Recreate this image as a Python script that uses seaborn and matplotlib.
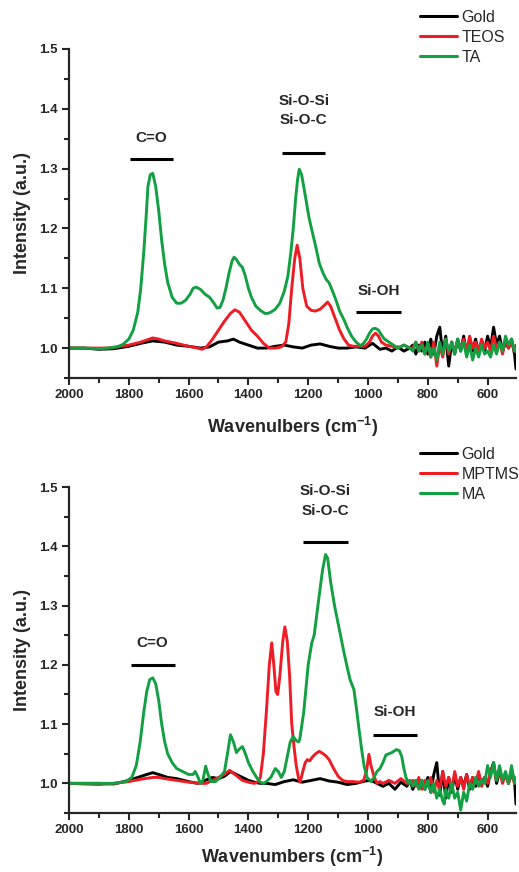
import numpy as np
import pandas as pd
import matplotlib
matplotlib.use("Agg")
import matplotlib.pyplot as plt
import seaborn as sns
from matplotlib.lines import Line2D
from matplotlib.ticker import MultipleLocator

# ---------------- DATA ----------------
# Top panel
top_gold_w = [2000,1950,1900,1850,1800,1760,1720,1680,1640,1600,1560,1530,1500,1470,1450,1430,1400,1370,1340,1310,1280,1250,1220,1190,1160,1130,1100,1070,1040,1010,985,960,940,920,900,880,860,
              850,840,830,820,810,800,790,780,770,760,750,740,730,720,710,700,690,680,670,660,650,640,630,620,610,600,590,580,570,560,550,540,530,520,510,505]
top_gold_v = [1.0,1.0,0.998,0.999,1.003,1.008,1.012,1.01,1.005,1.003,1.0,1.002,1.01,1.012,1.015,1.01,1.005,1.0,1.0,1.003,1.005,1.002,1.0,1.005,1.007,1.003,1.0,1.0,1.002,1.0,1.008,0.998,1.0,0.995,1.002,0.995,1.0,
              1.005,0.99,1.005,0.995,1.01,0.99,1.015,0.99,1.02,1.035,0.99,1.02,0.97,1.01,0.99,1.015,0.995,1.02,0.99,1.01,0.995,1.015,0.99,1.01,0.995,1.02,1.0,1.035,1.005,1.02,0.995,1.01,1.0,1.015,0.99,0.965]

top_teos_w = [2000,1950,1900,1870,1840,1800,1760,1720,1700,1680,1640,1600,1570,1555,1540,1520,1500,1480,1460,1445,1430,1410,1390,1370,1350,1330,1310,1290,1275,1265,1255,1245,1237,1228,1218,1205,1190,1175,1160,1145,1135,1125,1110,1095,1080,1065,1050,1030,1010,995,985,975,965,955,940,920,900,880,860,
              850,840,830,820,810,800,790,780,770,760,750,740,730,720,710,700,690,680,670,660,650,640,630,620,610,600,590,580,570,560,550,540,530,520,510,505]
top_teos_v = [1.0,1.0,1.0,1.0,1.002,1.005,1.01,1.017,1.015,1.012,1.008,1.003,1.0,0.998,1.002,1.015,1.03,1.045,1.058,1.064,1.06,1.045,1.03,1.02,1.008,1.0,1.0,1.002,1.01,1.04,1.1,1.15,1.172,1.15,1.1,1.07,1.063,1.062,1.065,1.072,1.077,1.07,1.05,1.03,1.015,1.005,1.003,1.003,1.003,1.01,1.02,1.025,1.02,1.01,1.005,1.003,1.0,1.005,1.0,
              1.0,1.01,0.995,1.01,0.99,1.005,0.985,1.01,0.97,1.005,0.985,1.015,0.99,1.01,0.995,1.01,1.0,1.015,0.995,1.02,1.0,1.01,0.995,1.015,1.0,1.01,0.995,1.02,1.0,1.01,0.99,1.015,1.0,1.01,0.995,1.005]

top_ta_w = [2000,1950,1900,1870,1840,1820,1800,1785,1770,1760,1750,1742,1736,1728,1720,1710,1700,1690,1680,1670,1655,1640,1625,1610,1595,1585,1575,1560,1545,1530,1515,1505,1495,1485,1475,1465,1455,1448,1440,1430,1420,1410,1400,1390,1375,1360,1345,1335,1325,1310,1295,1280,1268,1258,1250,1242,1236,1230,1222,1215,1207,1198,1190,1175,1163,1150,1140,1130,1120,1107,1095,1080,1070,1055,1040,1025,1015,1005,995,985,975,965,955,945,930,915,900,880,860,
            850,840,830,820,810,800,790,780,770,760,750,740,730,720,710,700,690,680,670,660,650,640,630,620,610,600,590,580,570,560,550,540,530,520,510,505]
top_ta_v = [1.0,1.0,0.999,1.0,1.002,1.006,1.015,1.03,1.06,1.1,1.16,1.22,1.27,1.29,1.292,1.27,1.23,1.18,1.14,1.11,1.085,1.075,1.075,1.08,1.09,1.1,1.102,1.098,1.09,1.085,1.075,1.067,1.068,1.08,1.1,1.125,1.145,1.152,1.148,1.14,1.135,1.12,1.1,1.085,1.07,1.063,1.058,1.058,1.06,1.065,1.075,1.095,1.12,1.16,1.2,1.25,1.28,1.299,1.29,1.27,1.247,1.22,1.202,1.17,1.142,1.125,1.115,1.109,1.097,1.08,1.062,1.047,1.035,1.02,1.01,1.004,1.008,1.015,1.025,1.032,1.033,1.03,1.022,1.015,1.01,1.005,1.0,1.005,1.0,
            0.995,1.01,0.995,1.005,0.99,1.01,0.985,1.0,0.98,1.01,0.99,1.015,0.995,1.01,0.99,1.015,0.995,1.01,0.985,1.005,0.98,1.0,0.985,1.005,0.99,0.995,0.985,1.005,0.99,1.01,0.995,1.02,1.005,1.015,0.995,1.0]

# Bottom panel
bot_gold_w = [2000,1950,1900,1850,1800,1770,1740,1720,1700,1670,1640,1600,1570,1545,1520,1500,1480,1460,1440,1420,1400,1380,1360,1340,1310,1280,1250,1220,1190,1160,1130,1100,1070,1040,1010,990,970,950,930,910,890,870,
              860,850,840,830,820,810,800,790,780,770,760,750,740,730,720,710,700,690,680,670,660,650,640,630,620,610,600,590,580,570,560,550,540,530,520,510,505]
bot_gold_v = [1.0,1.0,1.0,0.999,1.005,1.01,1.015,1.018,1.015,1.01,1.008,1.003,1.0,1.005,1.01,1.008,1.012,1.02,1.015,1.01,1.005,1.002,1.0,1.0,0.998,1.003,1.006,1.002,1.005,1.008,1.004,1.002,0.998,1.0,1.004,1.005,1.0,0.995,1.0,0.99,1.002,0.995,
              1.005,0.99,1.005,0.995,1.005,0.99,1.01,0.985,1.015,1.035,0.98,1.02,0.975,1.01,0.985,1.015,0.99,1.01,0.995,1.015,0.99,1.01,0.995,1.015,1.0,1.01,0.995,1.02,1.035,1.0,1.02,1.005,1.015,1.0,1.02,1.005,0.965]

bot_mptms_w = [2000,1950,1900,1850,1800,1760,1720,1700,1680,1640,1600,1560,1540,1520,1500,1480,1463,1445,1420,1400,1380,1370,1360,1350,1340,1330,1322,1315,1308,1302,1295,1285,1278,1270,1262,1255,1247,1240,1232,1227,1218,1210,1203,1195,1185,1175,1163,1150,1140,1130,1115,1100,1085,1070,1050,1030,1015,1005,997,990,980,970,960,950,930,910,890,870,
               860,850,840,830,820,810,800,790,780,770,760,750,740,730,720,710,700,690,680,670,660,650,640,630,620,610,600,590,580,570,560,550,540,530,520,510,505]
bot_mptms_v = [1.0,0.999,0.998,1.0,1.003,1.007,1.01,1.01,1.008,1.005,1.002,1.0,1.0,1.005,1.01,1.015,1.022,1.015,1.005,1.002,1.0,1.002,1.01,1.05,1.12,1.2,1.237,1.2,1.155,1.15,1.18,1.24,1.264,1.24,1.18,1.1,1.06,1.03,1.008,1.002,1.02,1.035,1.04,1.038,1.045,1.05,1.054,1.05,1.046,1.04,1.025,1.012,1.005,1.003,1.003,1.002,1.005,1.02,1.049,1.03,1.012,1.0,1.003,1.0,1.005,1.0,1.008,1.0,
               1.0,1.005,0.995,1.01,0.99,1.005,0.995,1.01,0.985,1.005,0.99,1.02,0.995,1.01,0.99,1.02,0.995,1.01,0.99,1.015,0.995,1.01,1.0,1.02,0.995,1.01,1.0,1.02,1.03,1.005,1.02,1.0,1.015,1.0,1.015,1.0,1.005]

bot_ma_w = [2000,1900,1850,1810,1790,1775,1762,1750,1740,1730,1720,1710,1700,1690,1680,1670,1655,1640,1620,1600,1585,1578,1570,1560,1552,1543,1535,1525,1510,1495,1480,1470,1460,1450,1440,1430,1420,1410,1400,1385,1370,1360,1350,1340,1325,1310,1300,1290,1280,1270,1260,1250,1240,1232,1228,1215,1200,1188,1180,1165,1152,1142,1135,1125,1112,1100,1090,1080,1070,1060,1047,1037,1030,1022,1013,1003,990,980,970,960,950,940,930,920,905,895,887,880,873,865,
            860,850,840,830,820,810,800,790,780,770,760,750,745,740,730,720,710,700,690,680,670,660,650,640,630,620,610,600,590,580,570,560,550,540,530,520,510,505]
bot_ma_v = [1.0,1.0,1.0,1.003,1.01,1.03,1.07,1.12,1.155,1.175,1.178,1.168,1.14,1.1,1.07,1.05,1.035,1.025,1.02,1.015,1.015,1.02,1.012,1.0,1.005,1.029,1.015,1.003,1.003,1.01,1.02,1.05,1.082,1.07,1.052,1.058,1.062,1.05,1.035,1.02,1.008,1.002,1.0,1.003,1.01,1.025,1.02,1.01,1.02,1.045,1.07,1.079,1.072,1.07,1.075,1.12,1.2,1.237,1.25,1.31,1.36,1.386,1.38,1.34,1.3,1.27,1.245,1.22,1.197,1.175,1.158,1.12,1.091,1.06,1.029,1.01,1.003,1.01,1.02,1.025,1.035,1.048,1.05,1.052,1.057,1.055,1.045,1.025,1.01,1.0,
            1.005,0.995,1.005,0.99,1.005,0.99,1.005,0.985,1.0,0.975,0.99,0.97,0.965,0.99,0.975,1.0,0.975,0.985,0.955,0.985,0.97,1.0,0.99,1.01,0.995,1.005,1.0,1.03,1.01,1.035,1.005,1.03,1.005,1.02,1.0,1.03,1.0,1.01]

top_labels = ["Gold", "TEOS", "TA"]
bot_labels = ["Gold", "MPTMS", "MA"]
colors = ["#000000", "#ee1c25", "#12a043"]

# ---------------- STYLE ----------------
sns.set_style("ticks")
plt.rcParams["font.family"] = ["Liberation Sans", "DejaVu Sans"]
plt.rcParams["font.weight"] = "bold"
plt.rcParams["mathtext.fontset"] = "custom"
plt.rcParams["mathtext.rm"] = "Liberation Sans:bold"
plt.rcParams["mathtext.bf"] = "Liberation Sans:bold"
plt.rcParams["mathtext.default"] = "rm"

W, H = 519, 872
fig = plt.figure(figsize=(W / 100, H / 100), dpi=100)


def fx(px):
    return px / W


def fy(py):
    return 1 - py / H


ax1 = fig.add_axes([fx(69), fy(378), fx(516) - fx(69), fy(49) - fy(378)])
ax2 = fig.add_axes([fx(69), fy(813), fx(516) - fx(69), fy(487) - fy(813)])


def make_df(ws, vs, labels):
    frames = []
    for w, v, lab in zip(ws, vs, labels):
        frames.append(pd.DataFrame({"w": w, "v": v, "s": lab}))
    return pd.concat(frames, ignore_index=True)


df1 = make_df([top_gold_w, top_teos_w, top_ta_w], [top_gold_v, top_teos_v, top_ta_v], top_labels)
df2 = make_df([bot_gold_w, bot_mptms_w, bot_ma_w], [bot_gold_v, bot_mptms_v, bot_ma_v], bot_labels)

for ax, df, labels in [(ax1, df1, top_labels), (ax2, df2, bot_labels)]:
    sns.lineplot(data=df, x="w", y="v", hue="s", hue_order=labels,
                 palette=colors, estimator=None, sort=False, lw=2.1,
                 legend=False, ax=ax)
    ax.set_xlim(2000, 505)
    ax.set_ylim(0.95, 1.5)
    ax.xaxis.set_major_locator(MultipleLocator(200))
    ax.xaxis.set_minor_locator(MultipleLocator(100))
    ax.yaxis.set_major_locator(MultipleLocator(0.1))
    ax.yaxis.set_minor_locator(MultipleLocator(0.05))
    ax.yaxis.set_major_formatter(matplotlib.ticker.FormatStrFormatter("%.1f"))
    for s in ["top", "right"]:
        ax.spines[s].set_visible(False)
    for s in ["left", "bottom"]:
        ax.spines[s].set_linewidth(1.6)
    ax.spines["left"].set_bounds(0.95, 1.5)
    ax.tick_params(which="major", direction="out", length=5, width=1.5, labelsize=9.5, pad=3)
    ax.tick_params(which="minor", direction="out", length=3.5, width=1.5)
    for t in ax.get_xticklabels() + ax.get_yticklabels():
        t.set_fontweight("bold")
    ax.set_ylabel("Intensity (a.u.)", fontsize=13, fontweight="bold", labelpad=6)
    ax.patch.set_alpha(0)

ax1.set_xlabel(r"Wavenulbers (cm$^{-1}$)", fontsize=13, fontweight="bold", labelpad=10)
ax2.set_xlabel(r"Wavenumbers (cm$^{-1}$)", fontsize=13, fontweight="bold", labelpad=6)

# Annotations
ANN = 11


def band(ax, x0, x1, y, text, ty):
    ax.plot([x0, x1], [y, y], color="black", lw=2.2, solid_capstyle="butt")
    ax.text((x0 + x1) / 2, ty, text, ha="center", va="center", fontsize=ANN, fontweight="bold")


band(ax1, 1797, 1653, 1.316, "C=O", 1.351)
band(ax1, 1287, 1143, 1.326, "Si-O-C", 1.381)
ax1.text(1215, 1.413, "Si-O-Si", ha="center", va="center", fontsize=ANN, fontweight="bold")
band(ax1, 1040, 890, 1.060, "Si-OH", 1.095)

band(ax2, 1793, 1647, 1.199, "C=O", 1.237)
band(ax2, 1217, 1067, 1.407, "Si-O-C", 1.460)
ax2.text(1142, 1.493, "Si-O-Si", ha="center", va="center", fontsize=ANN, fontweight="bold")
band(ax2, 983, 837, 1.081, "Si-OH", 1.120)

# Legends
for labels, ytop in [(top_labels, 10), (bot_labels, 447)]:
    handles = [Line2D([0], [0], color=c, lw=2.2) for c in colors]
    leg = fig.legend(handles, labels, loc="upper left",
                     bbox_to_anchor=(fx(420), fy(ytop)), bbox_transform=fig.transFigure,
                     frameon=False, borderpad=0, borderaxespad=0,
                     handlelength=2.3, handletextpad=0.3, labelspacing=0.3,
                     prop={"family": "Liberation Sans", "size": 11.5, "weight": "normal"})

fig.savefig("out.png", dpi=100)
